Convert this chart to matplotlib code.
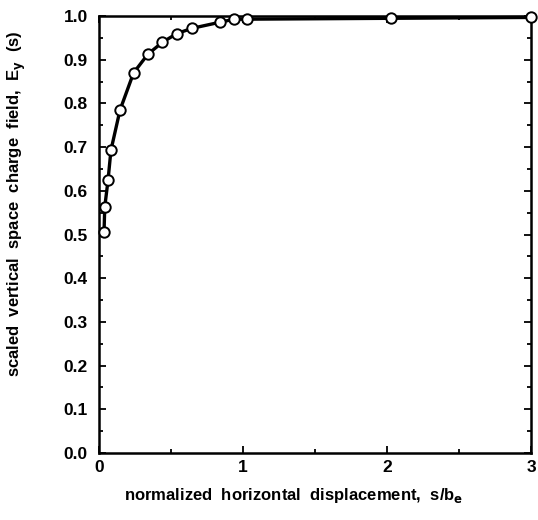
import numpy as np
import matplotlib.pyplot as plt
from matplotlib.ticker import MultipleLocator

# normalized displacement s/b_e and scaled vertical field E_y(s)
s_over_b = [0.035, 0.04, 0.063, 0.083, 0.146, 0.24, 0.34, 0.44, 0.54, 0.645,
            0.84, 0.94, 1.03, 2.03, 3.0]
e_y = [0.505, 0.563, 0.625, 0.693, 0.785, 0.87, 0.913, 0.94, 0.96, 0.972,
       0.986, 0.993, 0.993, 0.995, 0.997]

plt.rcParams['font.family'] = ['Liberation Sans', 'DejaVu Sans']
plt.rcParams['font.weight'] = 'bold'
plt.rcParams['mathtext.default'] = 'bf'

fig = plt.figure(figsize=(5.38, 5.2), dpi=100)
ax = fig.add_axes([0.184, 0.129, 0.803, 0.840])

ax.plot(s_over_b, e_y, '-', color='black', lw=2.4, marker='o', ms=7.5,
        mfc='white', mec='black', mew=1.4, clip_on=False, zorder=3)

ax.set_xlim(0, 3)
ax.set_ylim(0, 1.0)
ax.xaxis.set_major_locator(MultipleLocator(1))
ax.xaxis.set_minor_locator(MultipleLocator(0.5))
ax.yaxis.set_minor_locator(MultipleLocator(0.05))
ax.set_yticks(np.arange(0, 1.01, 0.1))
ax.set_yticklabels([f'{v:.1f}' for v in np.arange(0, 1.01, 0.1)])

ax.tick_params(which='both', direction='in', top=True, right=True, width=1.3)
ax.tick_params(which='major', length=5, labelsize=12.5)
ax.tick_params(axis='y', which='major', pad=8)
ax.tick_params(axis='x', which='major', pad=5)
ax.tick_params(which='minor', length=3)
for lab in ax.get_xticklabels() + ax.get_yticklabels():
    lab.set_fontweight('bold')
for sp in ax.spines.values():
    sp.set_linewidth(1.8)

ax.set_xlabel(r'normalized  horizontal  displacement,  s/b$_{\mathbf{e}}$',
              fontsize=12, fontweight='bold', labelpad=9)
ax.xaxis.set_label_coords(0.45, -0.075)
ax.set_ylabel(r'scaled  vertical  space  charge  field,  E$_{\mathbf{y}}$  (s)',
              fontsize=12, fontweight='bold')
ax.yaxis.set_label_coords(-0.165, 0.57)

fig.savefig('out.png', dpi=100)
